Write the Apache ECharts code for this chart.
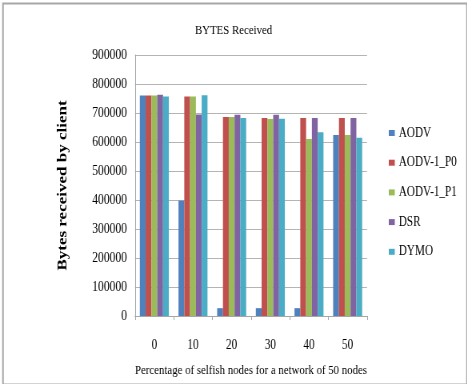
<!DOCTYPE html>
<html><head><meta charset="utf-8">
<script src="https://cdn.jsdelivr.net/npm/echarts@6/dist/echarts.min.js"></script>
<style>
html,body{margin:0;padding:0;background:#fff;overflow:hidden}
#wrap{width:467px;height:384px;overflow:hidden;position:relative}
#c{width:584px;height:384px;transform:scaleX(0.8);transform-origin:0 0;position:absolute;left:0;top:0}
</style>
</head><body><div id="wrap"><div id="c"></div></div>
<script>
var categories = ['0', '10', '20', '30', '40', '50'];
var seriesNames = ['AODV', 'AODV-1_P0', 'AODV-1_P1', 'DSR', 'DYMO'];
var aodv   = [760000, 398000, 27000, 27000, 27000, 624000];
var aodvP0 = [760000, 757000, 686000, 683000, 683000, 683000];
var aodvP1 = [760000, 757000, 686000, 679000, 610000, 624000];
var dsr    = [763000, 695000, 694000, 694000, 683000, 683000];
var dymo   = [757000, 761000, 683000, 680000, 634000, 615000];
var colors = ['#4F81BD', '#C0504D', '#9BBB59', '#8064A2', '#4BACC6'];
var values = [aodv, aodvP0, aodvP1, dsr, dymo];
var font = '"Liberation Serif", "DejaVu Serif", serif';

var chart = echarts.init(document.getElementById('c'), null, {renderer: 'canvas', width: 584, height: 384});
chart.setOption({
  animation: false,
  backgroundColor: '#fff',
  color: colors,
  title: {
    text: 'BYTES Received', left: 'center', top: 18,
    textStyle: {fontFamily: font, fontSize: 13.5, fontWeight: 'normal', color: '#000'}
  },
  legend: {
    orient: 'vertical', left: 481, top: 121,
    itemWidth: 7.5, itemHeight: 6, itemGap: 15.7,
    icon: 'rect',
    textStyle: {fontFamily: font, fontSize: 14, color: '#000'},
    data: seriesNames
  },
  grid: {left: 168.75, right: 125.25, top: 55, bottom: 68},
  xAxis: {
    type: 'category', data: categories,
    name: 'Percentage of selfish nodes for a network of 50 nodes',
    nameLocation: 'middle', nameGap: 47,
    nameTextStyle: {fontFamily: font, fontSize: 13.5, color: '#000'},
    axisLine: {lineStyle: {color: '#a6a6a6'}},
    axisTick: {show: true, length: 4, lineStyle: {color: '#a6a6a6'}},
    axisLabel: {fontFamily: font, fontSize: 14, color: '#000', margin: 22}
  },
  yAxis: {
    type: 'value', min: 0, max: 900000, interval: 100000,
    name: 'Bytes received by client',
    nameLocation: 'middle', nameGap: 82,
    nameTextStyle: {fontFamily: font, fontSize: 17, fontWeight: 'bold', color: '#000'},
    axisLine: {show: true, lineStyle: {color: '#a6a6a6'}},
    axisTick: {show: false},
    axisLabel: {fontFamily: font, fontSize: 14.5, color: '#000', margin: 10,
      formatter: function (v) { return String(v); }},
    splitLine: {lineStyle: {color: '#b4b4b4'}}
  },
  series: seriesNames.map(function (n, i) {
    return {name: n, type: 'bar', data: values[i], barGap: '0%', barCategoryGap: '25%'};
  }),
  graphic: [{
    type: 'rect', left: 1.25, top: 1,
    shape: {width: 580, height: 381},
    style: {fill: 'none', stroke: '#a8a8a8', lineWidth: 2}
  }]
});
</script></body></html>
